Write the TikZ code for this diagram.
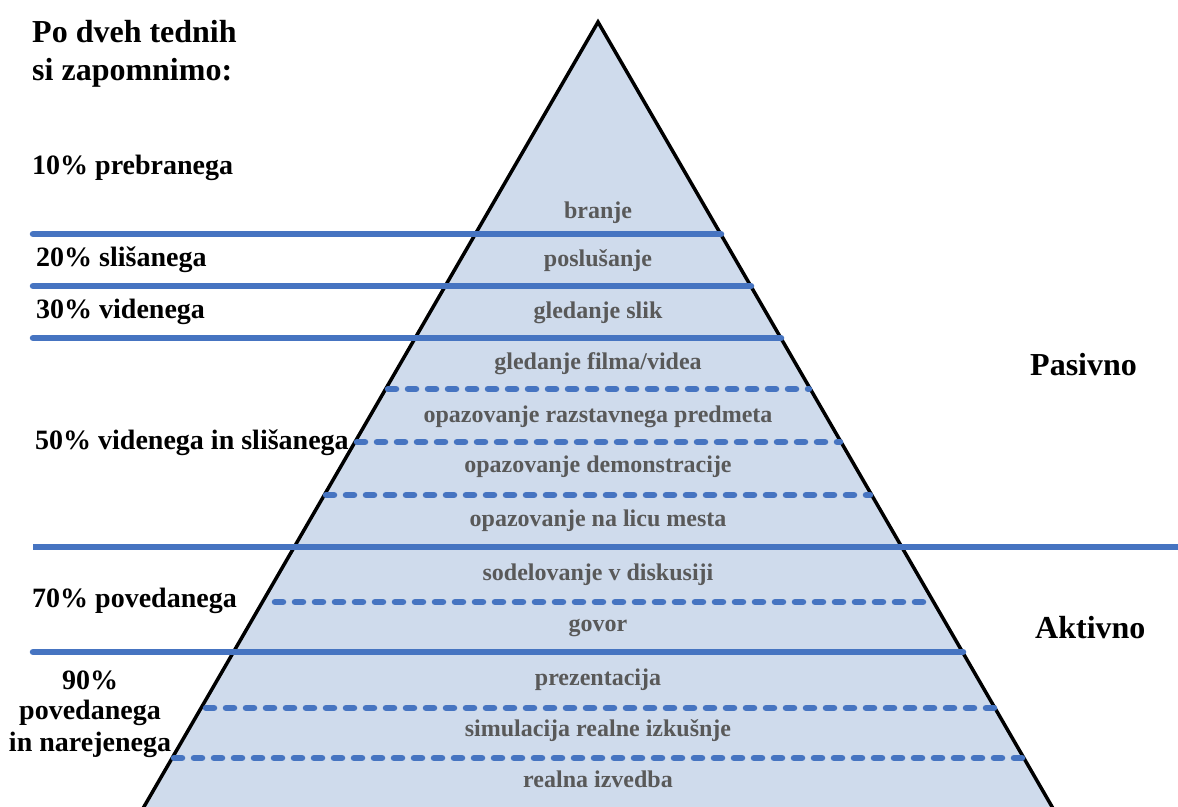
\documentclass[tikz,border=0pt]{standalone}
\usepackage{fontspec}
\setmainfont{Liberation Serif}
\definecolor{pyrfill}{HTML}{CFDBEC}
\definecolor{lineblue}{HTML}{4674C1}
\definecolor{txtgray}{HTML}{595959}
\begin{document}
\begin{tikzpicture}[x=1pt,y=-1pt,
  solidline/.style={draw=lineblue,line width=6.5pt,line cap=round},
  dotline/.style={draw=lineblue,line width=6.5pt,line cap=round,dash pattern=on 8pt off 12pt},
  inner/.style={text=txtgray,font=\fontsize{24}{26}\selectfont\bfseries,inner sep=0pt,anchor=center},
  lab/.style={text=black,font=\fontsize{28}{32}\selectfont\bfseries,inner sep=0pt,anchor=west},
  side/.style={text=black,font=\fontsize{32}{34}\selectfont\bfseries,inner sep=0pt,anchor=west}]
\useasboundingbox (0,0) rectangle (1178,806);
\begin{scope}
\clip (0,0) rectangle (1178,806);
\filldraw[fill=pyrfill,draw=black,line width=3.5pt,line join=miter] (598,22) -- (1106,900) -- (90,900) -- cycle;
\end{scope}
% line end coordinates
\coordinate (a1) at (33,234); \coordinate (a2) at (721,234);
\coordinate (b1) at (33,286); \coordinate (b2) at (751,286);
\coordinate (c1) at (33,338); \coordinate (c2) at (781,338);
\coordinate (d1) at (388,389); \coordinate (d2) at (809,389);
\coordinate (e1) at (357,442); \coordinate (e2) at (840,442);
\coordinate (f1) at (326,495); \coordinate (f2) at (870,495);
\coordinate (g1) at (33,547); \coordinate (g2) at (1178,547);
\coordinate (h1) at (275,602); \coordinate (h2) at (933,602);
\coordinate (i1) at (33,652); \coordinate (i2) at (963,652);
\coordinate (j1) at (206,708); \coordinate (j2) at (994,708);
\coordinate (k1) at (174,758); \coordinate (k2) at (1024,758);
\draw[solidline] (a1) -- (a2);
\draw[solidline] (b1) -- (b2);
\draw[solidline] (c1) -- (c2);
\draw[dotline] (d1) -- (d2);
\draw[dotline] (e1) -- (e2);
\draw[dotline] (f1) -- (f2);
\draw[solidline,line cap=butt] (g1) -- (g2);
\draw[dotline] (h1) -- (h2);
\draw[solidline] (i1) -- (i2);
\draw[dotline] (j1) -- (j2);
\draw[dotline] (k1) -- (k2);
% inner texts
\node[inner] (t1) at (598,213) {branje};
\node[inner] (t2) at (598,261) {poslušanje};
\node[inner] (t3) at (598,313) {gledanje slik};
\node[inner] (t4) at (598,364) {gledanje filma/videa};
\node[inner] (t5) at (598,417) {opazovanje razstavnega predmeta};
\node[inner] (t6) at (598,467) {opazovanje demonstracije};
\node[inner] (t7) at (598,521) {opazovanje na licu mesta};
\node[inner] (t8) at (598,575) {sodelovanje v diskusiji};
\node[inner] (t9) at (598,628) {govor};
\node[inner] (t10) at (598,680) {prezentacija};
\node[inner] (t11) at (598,731) {simulacija realne izkušnje};
\node[inner] (t12) at (598,779) {realna izvedba};
% left labels
\node[side] (title1) at (32,32) {Po dveh tednih};
\node[side] (title2) at (32,73) {si zapomnimo:};
\node[lab] (l10) at (32,168) {10\% prebranega};
\node[lab] (l20) at (36,260) {20\% slišanega};
\node[lab] (l30) at (36,312) {30\% videnega};
\node[lab] (l50) at (35,443) {50\% videnega in slišanega};
\node[lab] (l70) at (32,601) {70\% povedanega};
\node[lab,anchor=center] (l90a) at (90,680) {90\%};
\node[lab,anchor=center] (l90b) at (90,713) {povedanega};
\node[lab,anchor=center] (l90c) at (90,745) {in narejenega};
% right labels
\node[side] (pas) at (1030,365) {Pasivno};
\node[side] (akt) at (1035,628) {Aktivno};
\end{tikzpicture}
\end{document}
